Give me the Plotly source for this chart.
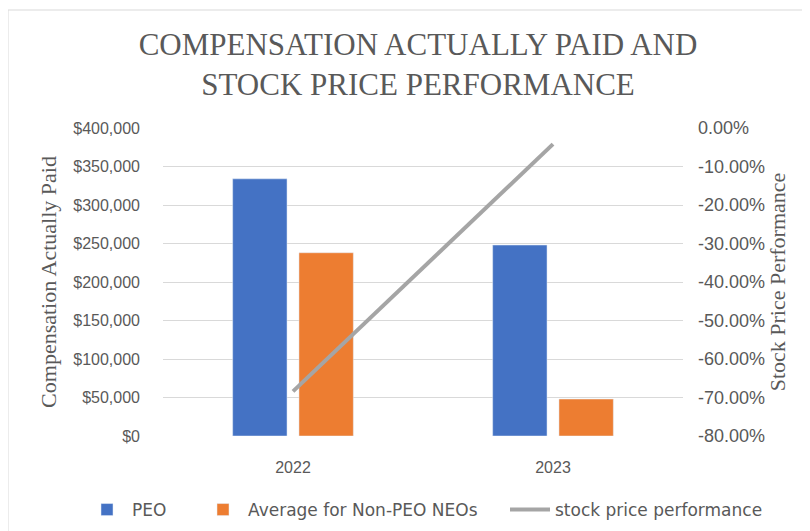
import plotly.graph_objects as go

years = ["2022", "2023"]
peo = [334000, 248000]
non_peo = [238000, 48000]
stock_perf = [-0.684, -0.042]

left_ticks = [0, 50000, 100000, 150000, 200000, 250000, 300000, 350000, 400000]
right_ticks = [-0.8, -0.7, -0.6, -0.5, -0.4, -0.3, -0.2, -0.1, 0.0]
right_labels = ["-80.00%", "-70.00%", "-60.00%", "-50.00%", "-40.00%", "-30.00%", "-20.00%", "-10.00%", "0.00%"]

title_text = "COMPENSATION ACTUALLY PAID AND<br>STOCK PRICE PERFORMANCE"

OFF = 8  # browser body margin
W, H = 810 - OFF, 531 - OFF
ml, mt = 163 - OFF, 128 - OFF
pr, pb = 683 - OFF, 436 - OFF
mr, mb = W - pr, H - pb
pw, ph = pr - ml, pb - mt

def px(xp):
    return (xp - OFF - ml) / pw

def py(yp):
    return (pb - (yp - OFF)) / ph

fig = go.Figure()
fig.add_trace(go.Bar(x=years, y=peo, name="PEO", marker_color="#4472C4", yaxis="y", legend="legend"))
fig.add_trace(go.Bar(x=years, y=non_peo, name="Average for Non-PEO NEOs", marker_color="#ED7D31", yaxis="y",
                     legend="legend2"))
fig.add_trace(go.Scatter(x=years, y=stock_perf, name="stock price performance", mode="lines",
                         line=dict(color="#A5A5A5", width=4), yaxis="y2", legend="legend3"))

sans = "Liberation Sans Narrow, Arial Narrow, Liberation Sans, Arial"
tickfont = dict(family=sans, size=16, color="#595959")
serif = "Liberation Serif, Times New Roman, serif"
legfont = dict(family="DejaVu Sans, Liberation Sans", size=17, color="#595959")

def leg(xpage):
    return dict(orientation="h", x=px(xpage), xanchor="left", y=py(510), yanchor="middle",
                font=legfont, itemwidth=40, bgcolor="rgba(0,0,0,0)")

fig.update_layout(
    width=W, height=H,
    margin=dict(l=ml, r=mr, t=mt, b=mb, autoexpand=False),
    paper_bgcolor="white", plot_bgcolor="white",
    barmode="group", bargap=0.49, bargroupgap=0.18,
    title=dict(text=title_text, x=(418 - OFF) / W, xanchor="center", y=1 - (55 - OFF) / H, yanchor="middle",
               font=dict(family=serif, size=31, color="#595959")),
    xaxis=dict(showgrid=False, showline=False, ticks="", tickfont=tickfont, ticklabelstandoff=20),
    yaxis=dict(range=[0, 400000], tickvals=left_ticks, tickformat="$,.0f", showgrid=True, gridcolor="#D9D9D9",
               gridwidth=1, zeroline=False, showline=False, tickfont=tickfont, ticklabelstandoff=22,
               title=dict(text="Compensation Actually Paid", font=dict(family=serif, size=22, color="#595959"),
                          standoff=10)),
    yaxis2=dict(range=[-0.8, 0], tickvals=right_ticks, ticktext=right_labels, overlaying="y", side="right",
                showgrid=False, zeroline=False, showline=False,
                tickfont=dict(family=sans, size=18, color="#595959"), ticklabelstandoff=14,
                title=dict(text="Stock Price Performance", font=dict(family=serif, size=22, color="#595959"),
                           standoff=2)),
    legend=leg(82),
    legend2=leg(198),
    legend3=leg(505),
    showlegend=True,
)

fig.add_shape(type="rect", xref="paper", yref="paper",
              x0=px(8), x1=px(830), y0=py(560), y1=py(10),
              line=dict(color="#D9D9D9", width=1), fillcolor="rgba(0,0,0,0)", layer="below")

fig.write_html("out.html")
